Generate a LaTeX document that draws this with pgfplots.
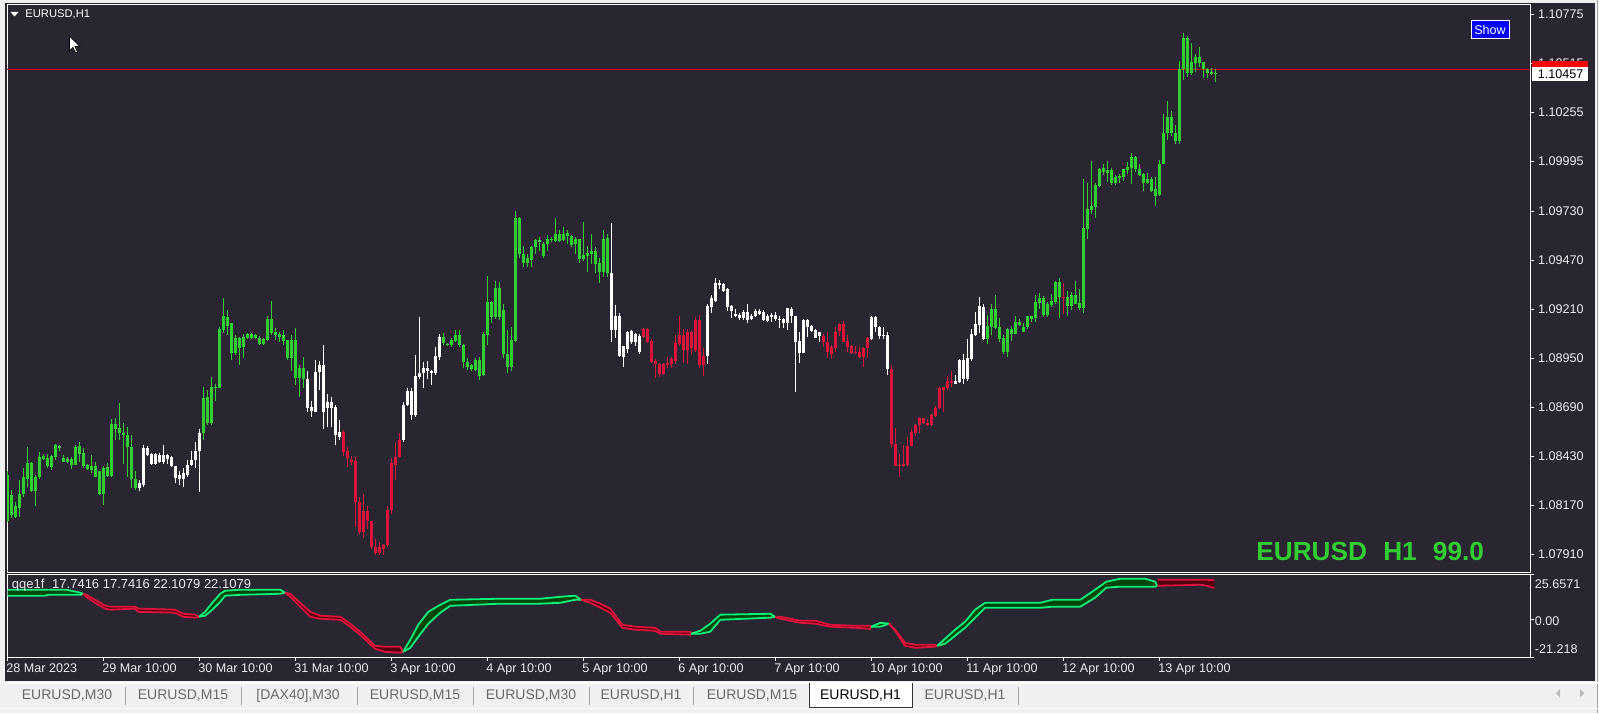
\documentclass[border=0pt]{standalone}
\usepackage{fontspec}
\setmainfont{Liberation Sans}
\usepackage{pgfplots}
\pgfplotsset{compat=1.18}
\usepackage{pgfplotstable}

\definecolor{chartbg}{RGB}{42,38,49}
\definecolor{winbg}{RGB}{240,240,240}
\definecolor{cgreen}{RGB}{50,205,50}
\definecolor{cred}{RGB}{220,20,60}
\definecolor{fg}{RGB}{235,235,240}
\definecolor{qgreen}{RGB}{10,240,120}
\definecolor{qgfill}{RGB}{0,70,10}
\definecolor{qred}{RGB}{220,20,60}
\definecolor{qrfill}{RGB}{85,0,15}
\definecolor{tabtext}{RGB}{105,105,105}
\definecolor{hline}{RGB}{215,0,0}

\newcommand\scalefont{\fontsize{6.3pt}{7pt}\selectfont}

% EURUSD H1 candles: t, body top, body bottom, high, low, colour class (0 green, 1 white, 2 red)
\pgfplotstableread{
t bt bb h l k
0 1.08331 1.08085 1.08351 1.08080 0
1 1.08226 1.08120 1.08251 1.08100 0
2 1.08165 1.08110 1.08190 1.08105 0
3 1.08231 1.08155 1.08306 1.08110 0
4 1.08321 1.08231 1.08366 1.08216 0
5 1.08396 1.08311 1.08481 1.08266 0
6 1.08396 1.08246 1.08401 1.08241 0
7 1.08321 1.08246 1.08331 1.08165 0
8 1.08426 1.08321 1.08451 1.08311 0
9 1.08431 1.08416 1.08441 1.08411 0
10 1.08421 1.08376 1.08441 1.08366 0
11 1.08431 1.08371 1.08436 1.08356 0
12 1.08491 1.08426 1.08496 1.08411 0
13 1.08486 1.08476 1.08491 1.08456 0
14 1.08421 1.08401 1.08436 1.08401 0
15 1.08416 1.08401 1.08426 1.08396 0
16 1.08416 1.08386 1.08426 1.08361 0
17 1.08481 1.08386 1.08491 1.08386 0
18 1.08486 1.08441 1.08506 1.08401 0
19 1.08446 1.08376 1.08476 1.08366 0
20 1.08386 1.08361 1.08391 1.08356 0
21 1.08376 1.08356 1.08436 1.08341 0
22 1.08376 1.08321 1.08401 1.08321 0
23 1.08351 1.08231 1.08351 1.08226 0
24 1.08366 1.08231 1.08376 1.08170 0
25 1.08371 1.08326 1.08396 1.08321 0
26 1.08601 1.08326 1.08626 1.08321 0
27 1.08601 1.08576 1.08631 1.08516 0
28 1.08581 1.08551 1.08711 1.08516 0
29 1.08556 1.08541 1.08606 1.08391 0
30 1.08541 1.08481 1.08586 1.08321 0
31 1.08481 1.08311 1.08541 1.08261 0
32 1.08311 1.08261 1.08351 1.08251 0
33 1.08286 1.08261 1.08306 1.08246 1
34 1.08476 1.08276 1.08491 1.08266 1
35 1.08476 1.08436 1.08486 1.08431 1
36 1.08441 1.08391 1.08446 1.08386 1
37 1.08441 1.08391 1.08446 1.08386 1
38 1.08436 1.08401 1.08446 1.08396 1
39 1.08436 1.08401 1.08491 1.08391 1
40 1.08436 1.08416 1.08441 1.08391 1
41 1.08426 1.08376 1.08431 1.08371 1
42 1.08376 1.08316 1.08381 1.08286 1
43 1.08331 1.08311 1.08351 1.08276 1
44 1.08341 1.08311 1.08366 1.08266 1
45 1.08386 1.08331 1.08411 1.08321 1
46 1.08411 1.08386 1.08456 1.08376 1
47 1.08456 1.08411 1.08506 1.08366 1
48 1.08551 1.08456 1.08576 1.08241 1
49 1.08741 1.08551 1.08796 1.08516 0
50 1.08746 1.08606 1.08781 1.08596 0
51 1.08796 1.08606 1.08851 1.08596 0
52 1.08796 1.08791 1.08816 1.08721 0
53 1.09107 1.08791 1.09117 1.08791 0
54 1.09172 1.09102 1.09272 1.09082 0
55 1.09167 1.09122 1.09207 1.09072 0
56 1.09137 1.08976 1.09137 1.08941 0
57 1.09057 1.08976 1.09072 1.08966 0
58 1.09057 1.09007 1.09062 1.08916 0
59 1.09062 1.09012 1.09077 1.08951 0
60 1.09077 1.09057 1.09082 1.09052 0
61 1.09077 1.09057 1.09082 1.09052 0
62 1.09072 1.09057 1.09077 1.09052 0
63 1.09057 1.09027 1.09067 1.09022 0
64 1.09052 1.09027 1.09057 1.09022 0
65 1.09157 1.09047 1.09172 1.09042 0
66 1.09157 1.09082 1.09252 1.09072 0
67 1.09087 1.09072 1.09112 1.09047 0
68 1.09077 1.09062 1.09092 1.09037 0
69 1.09072 1.09042 1.09102 1.09022 0
70 1.09047 1.08951 1.09047 1.08941 0
71 1.09047 1.08951 1.09072 1.08881 0
72 1.09047 1.08846 1.09112 1.08806 0
73 1.08901 1.08846 1.08916 1.08746 0
74 1.08896 1.08841 1.08956 1.08791 0
75 1.08841 1.08686 1.08881 1.08666 1
76 1.08691 1.08671 1.08721 1.08641 1
77 1.08876 1.08666 1.08941 1.08666 1
78 1.08916 1.08876 1.08936 1.08781 1
79 1.08916 1.08666 1.09022 1.08576 1
80 1.08716 1.08686 1.08761 1.08586 1
81 1.08716 1.08686 1.08746 1.08586 1
82 1.08691 1.08541 1.08701 1.08491 1
83 1.08561 1.08531 1.08621 1.08516 1
84 1.08561 1.08451 1.08571 1.08431 2
85 1.08456 1.08421 1.08481 1.08371 2
86 1.08411 1.08401 1.08431 1.08386 2
87 1.08406 1.08190 1.08426 1.08055 2
88 1.08190 1.08030 1.08216 1.08020 2
89 1.08140 1.08030 1.08231 1.07995 2
90 1.08140 1.08085 1.08165 1.08045 2
91 1.08085 1.07950 1.08085 1.07940 2
92 1.07950 1.07915 1.07990 1.07905 2
93 1.07950 1.07915 1.07975 1.07905 2
94 1.07960 1.07940 1.07965 1.07905 2
95 1.08145 1.07960 1.08165 1.07950 2
96 1.08396 1.08145 1.08421 1.08125 2
97 1.08426 1.08386 1.08506 1.08306 2
98 1.08516 1.08426 1.08551 1.08421 2
99 1.08701 1.08516 1.08716 1.08506 1
100 1.08776 1.08701 1.08791 1.08696 1
101 1.08776 1.08651 1.08791 1.08621 1
102 1.08856 1.08651 1.08966 1.08641 1
103 1.08871 1.08851 1.09167 1.08841 1
104 1.08896 1.08871 1.08931 1.08791 1
105 1.08901 1.08881 1.08936 1.08841 1
106 1.08881 1.08871 1.08886 1.08806 1
107 1.08961 1.08871 1.09012 1.08861 1
108 1.09062 1.08956 1.09077 1.08941 1
109 1.09062 1.09032 1.09082 1.09022 0
110 1.09027 1.09022 1.09032 1.09017 0
111 1.09047 1.09022 1.09057 1.09012 0
112 1.09072 1.09042 1.09102 1.09037 0
113 1.09072 1.09022 1.09102 1.09012 0
114 1.09022 1.08931 1.09027 1.08901 0
115 1.08931 1.08906 1.08951 1.08886 0
116 1.08916 1.08891 1.08921 1.08881 0
117 1.08941 1.08886 1.08951 1.08881 0
118 1.08941 1.08856 1.08956 1.08836 0
119 1.09077 1.08861 1.09092 1.08856 0
120 1.09247 1.09072 1.09387 1.09022 0
121 1.09247 1.09167 1.09252 1.09137 0
122 1.09322 1.09167 1.09362 1.09157 0
123 1.09322 1.09167 1.09357 1.09152 0
124 1.09207 1.08971 1.09237 1.08951 0
125 1.08971 1.08906 1.09102 1.08871 0
126 1.09047 1.08906 1.09117 1.08881 0
127 1.09697 1.09042 1.09732 1.09037 0
128 1.09692 1.09502 1.09702 1.09482 0
129 1.09502 1.09457 1.09547 1.09432 0
130 1.09482 1.09457 1.09502 1.09437 0
131 1.09542 1.09472 1.09547 1.09437 0
132 1.09577 1.09542 1.09582 1.09502 0
133 1.09577 1.09567 1.09592 1.09517 0
134 1.09557 1.09492 1.09567 1.09482 0
135 1.09582 1.09557 1.09602 1.09517 0
136 1.09582 1.09577 1.09592 1.09567 0
137 1.09612 1.09572 1.09692 1.09567 0
138 1.09612 1.09572 1.09632 1.09567 0
139 1.09612 1.09577 1.09647 1.09572 0
140 1.09617 1.09597 1.09632 1.09557 0
141 1.09597 1.09552 1.09602 1.09542 0
142 1.09582 1.09557 1.09592 1.09502 0
143 1.09582 1.09477 1.09582 1.09457 0
144 1.09497 1.09477 1.09672 1.09467 0
145 1.09507 1.09492 1.09547 1.09407 0
146 1.09517 1.09502 1.09607 1.09452 0
147 1.09517 1.09452 1.09542 1.09402 0
148 1.09457 1.09407 1.09482 1.09352 0
149 1.09582 1.09407 1.09632 1.09382 0
150 1.09587 1.09402 1.09607 1.09382 0
151 1.09402 1.09102 1.09667 1.09037 1
152 1.09172 1.09102 1.09232 1.09057 1
153 1.09172 1.08961 1.09192 1.08956 1
154 1.09017 1.08956 1.09017 1.08906 1
155 1.09092 1.08997 1.09097 1.08976 1
156 1.09097 1.09037 1.09102 1.09027 1
157 1.09077 1.09037 1.09082 1.09017 1
158 1.09067 1.08986 1.09077 1.08971 1
159 1.09107 1.09062 1.09112 1.09057 2
160 1.09107 1.09037 1.09112 1.09032 2
161 1.09042 1.08931 1.09052 1.08926 2
162 1.08936 1.08921 1.08946 1.08846 2
163 1.08921 1.08866 1.08926 1.08851 2
164 1.08921 1.08866 1.08926 1.08861 2
165 1.08926 1.08916 1.08956 1.08896 2
166 1.08946 1.08921 1.08956 1.08901 2
167 1.09032 1.08936 1.09072 1.08921 2
168 1.09072 1.09027 1.09172 1.09017 2
169 1.09072 1.08996 1.09107 1.08926 2
170 1.09092 1.08996 1.09107 1.08921 2
171 1.09092 1.09007 1.09097 1.08971 2
172 1.09152 1.08996 1.09167 1.08981 2
173 1.09152 1.08916 1.09182 1.08896 2
174 1.08961 1.08916 1.09007 1.08856 2
175 1.09227 1.08961 1.09237 1.08921 1
176 1.09272 1.09222 1.09287 1.09192 1
177 1.09347 1.09252 1.09377 1.09247 1
178 1.09347 1.09337 1.09367 1.09317 1
179 1.09342 1.09307 1.09352 1.09302 1
180 1.09317 1.09222 1.09322 1.09202 1
181 1.09227 1.09202 1.09232 1.09162 1
182 1.09187 1.09177 1.09212 1.09167 1
183 1.09182 1.09162 1.09192 1.09152 1
184 1.09197 1.09162 1.09207 1.09152 1
185 1.09197 1.09152 1.09237 1.09137 1
186 1.09177 1.09157 1.09187 1.09152 1
187 1.09202 1.09172 1.09212 1.09167 1
188 1.09202 1.09187 1.09212 1.09182 1
189 1.09197 1.09152 1.09207 1.09147 1
190 1.09172 1.09147 1.09187 1.09142 1
191 1.09182 1.09167 1.09192 1.09142 1
192 1.09182 1.09157 1.09197 1.09147 1
193 1.09157 1.09152 1.09177 1.09112 1
194 1.09157 1.09137 1.09162 1.09112 1
195 1.09217 1.09137 1.09217 1.09102 1
196 1.09212 1.09172 1.09222 1.09137 1
197 1.09172 1.09037 1.09177 1.08771 1
198 1.09042 1.08976 1.09087 1.08926 1
199 1.09152 1.08976 1.09157 1.08976 1
200 1.09152 1.09117 1.09157 1.09062 1
201 1.09122 1.09097 1.09127 1.09087 1
202 1.09102 1.09057 1.09107 1.09057 1
203 1.09087 1.09067 1.09092 1.09037 1
204 1.09067 1.09037 1.09077 1.09012 2
205 1.09037 1.08986 1.09087 1.08951 2
206 1.09012 1.08971 1.09022 1.08946 2
207 1.09092 1.09007 1.09117 1.08986 2
208 1.09132 1.09097 1.09137 1.09067 2
209 1.09132 1.09037 1.09147 1.09037 2
210 1.09042 1.09012 1.09072 1.08986 2
211 1.09017 1.08976 1.09022 1.08971 2
212 1.08986 1.08976 1.09017 1.08971 2
213 1.08986 1.08956 1.09012 1.08951 2
214 1.09007 1.08956 1.09012 1.08906 2
215 1.09057 1.09007 1.09062 1.08951 2
216 1.09167 1.09052 1.09172 1.09047 1
217 1.09167 1.09117 1.09172 1.09087 1
218 1.09117 1.09067 1.09122 1.09052 1
219 1.09072 1.09067 1.09117 1.09052 1
220 1.09072 1.08891 1.09087 1.08861 1
221 1.08891 1.08496 1.08916 1.08481 2
222 1.08496 1.08376 1.08581 1.08376 2
223 1.08386 1.08376 1.08441 1.08321 2
224 1.08391 1.08376 1.08491 1.08371 2
225 1.08486 1.08386 1.08531 1.08376 2
226 1.08561 1.08486 1.08576 1.08486 2
227 1.08596 1.08556 1.08601 1.08536 2
228 1.08631 1.08596 1.08636 1.08556 2
229 1.08631 1.08606 1.08631 1.08601 2
230 1.08606 1.08596 1.08626 1.08591 2
231 1.08651 1.08596 1.08656 1.08591 2
232 1.08686 1.08646 1.08696 1.08636 2
233 1.08791 1.08686 1.08796 1.08681 2
234 1.08796 1.08781 1.08796 1.08666 2
235 1.08831 1.08791 1.08856 1.08781 2
236 1.08831 1.08821 1.08881 1.08796 2
237 1.08831 1.08816 1.08861 1.08811 1
238 1.08941 1.08826 1.08946 1.08821 1
239 1.08941 1.08841 1.08971 1.08811 1
240 1.08951 1.08841 1.09052 1.08831 1
241 1.09077 1.08946 1.09107 1.08936 1
242 1.09132 1.09072 1.09197 1.09067 1
243 1.09227 1.09127 1.09277 1.09082 1
244 1.09222 1.09052 1.09237 1.09047 1
245 1.09122 1.09052 1.09182 1.09027 0
246 1.09212 1.09117 1.09237 1.09072 0
247 1.09212 1.09112 1.09287 1.09107 0
248 1.09117 1.09052 1.09162 1.09037 0
249 1.09057 1.08981 1.09072 1.08971 0
250 1.09107 1.08981 1.09112 1.08956 0
251 1.09107 1.09077 1.09122 1.09042 0
252 1.09142 1.09077 1.09172 1.09077 0
253 1.09142 1.09127 1.09157 1.09122 0
254 1.09117 1.09092 1.09137 1.09087 0
255 1.09172 1.09117 1.09177 1.09107 0
256 1.09172 1.09157 1.09177 1.09142 0
257 1.09247 1.09162 1.09287 1.09142 0
258 1.09272 1.09242 1.09297 1.09212 0
259 1.09272 1.09182 1.09282 1.09167 0
260 1.09237 1.09182 1.09247 1.09167 0
261 1.09252 1.09232 1.09292 1.09222 0
262 1.09357 1.09247 1.09362 1.09237 0
263 1.09357 1.09277 1.09377 1.09162 0
264 1.09277 1.09272 1.09347 1.09187 2
265 1.09277 1.09227 1.09307 1.09177 0
266 1.09287 1.09227 1.09302 1.09207 0
267 1.09287 1.09237 1.09362 1.09237 0
268 1.09242 1.09217 1.09317 1.09207 0
269 1.09642 1.09217 1.09902 1.09192 0
270 1.09742 1.09637 1.09882 1.09582 0
271 1.09757 1.09737 1.09997 1.09717 0
272 1.09872 1.09752 1.09882 1.09697 0
273 1.09957 1.09862 1.09962 1.09857 0
274 1.09962 1.09937 1.09982 1.09922 0
275 1.09947 1.09932 1.09997 1.09887 0
276 1.09947 1.09882 1.09962 1.09867 0
277 1.09912 1.09882 1.09922 1.09867 0
278 1.09917 1.09907 1.09927 1.09882 0
279 1.09952 1.09912 1.09952 1.09892 0
280 1.09967 1.09947 1.09992 1.09927 0
281 1.10017 1.09962 1.10037 1.09877 0
282 1.10017 1.09957 1.10022 1.09937 0
283 1.09957 1.09922 1.09982 1.09917 0
284 1.09927 1.09882 1.09932 1.09837 0
285 1.09902 1.09882 1.09932 1.09877 0
286 1.09902 1.09837 1.09912 1.09832 0
287 1.09847 1.09812 1.09912 1.09757 0
288 1.09982 1.09817 1.10002 1.09812 0
289 1.10148 1.09982 1.10248 1.09982 0
290 1.10228 1.10143 1.10313 1.10108 0
291 1.10228 1.10143 1.10263 1.10128 0
292 1.10143 1.10103 1.10188 1.10088 0
293 1.10483 1.10103 1.10528 1.10088 0
294 1.10648 1.10483 1.10678 1.10428 0
295 1.10648 1.10463 1.10658 1.10443 0
296 1.10523 1.10463 1.10623 1.10453 0
297 1.10548 1.10518 1.10563 1.10468 0
298 1.10548 1.10518 1.10603 1.10498 0
299 1.10523 1.10483 1.10523 1.10438 0
300 1.10483 1.10463 1.10493 1.10438 0
301 1.10468 1.10458 1.10488 1.10453 0
302 1.10463 1.10458 1.10483 1.10418 0
}\candles

% qqe1f lines: bar position, upper line, lower line
\pgfplotstableread{
i u l
0 16.8 13.4
9.4 16.8 13.4
10.2 16.8 13.9
14.7 16.8 13.9
18.2 15.1 13.9
18.9 14.5 14.5
19.7 13.9 12.8
21.9 11.1 9.4
24.4 7.7 6.1
25.7 7.2 5.5
31.9 7.2 6.1
32.7 6.1 4.3
41.9 5.5 3.8
43.9 3.2 1.5
46.9 2.7 1.0
47.9 1.5 1.5
49.4 4.3 2.1
51.2 9.4 5.5
53.2 14.5 10.0
54.4 16.2 13.4
58.2 16.8 13.9
68.2 16.8 14.5
69.4 15.1 15.1
70.7 14.5 12.8
73.2 9.4 7.2
75.7 4.3 1.5
78.2 2.1 0.4
83.2 1.5 -0.2
85.7 -2.4 -4.1
88.7 -8.1 -9.8
91.9 -14.9 -16.6
94.4 -15.4 -18.3
98.2 -15.4 -18.8
98.9 -18.3 -18.3
100.7 -11.5 -16.0
102.7 -3.0 -9.8
105.2 4.3 -2.4
108.2 8.3 3.8
110.7 11.1 7.7
123.2 11.7 8.9
133.2 11.7 8.9
138.2 12.8 9.4
141.9 13.4 11.1
143.4 11.1 11.1
145.7 11.1 9.4
148.2 8.9 6.6
150.7 6.1 3.8
153.7 -3.0 -4.7
156.9 -4.1 -5.8
161.9 -4.7 -6.4
163.2 -6.9 -8.1
170.7 -6.9 -8.6
170.9 -8.1 -8.1
173.2 -6.4 -8.1
175.7 -2.4 -6.9
178.2 2.7 -0.2
190.7 3.2 1.0
191.9 1.5 1.5
193.2 1.5 0.4
198.2 -0.7 -1.9
201.9 -0.7 -2.4
205.7 -3.0 -4.1
211.9 -3.6 -4.7
215.7 -3.6 -5.3
215.9 -4.1 -4.1
218.2 -1.9 -4.1
220.4 -2.4 -2.4
221.9 -5.8 -6.4
224.4 -13.2 -14.9
226.9 -14.3 -16.0
231.9 -14.3 -15.4
232.4 -14.9 -14.9
234.4 -10.9 -13.7
236.9 -5.8 -9.2
239.4 -1.3 -4.7
241.9 5.5 1.0
244.4 9.4 6.6
258.2 9.4 6.6
261.2 11.1 7.2
268.2 11.1 7.2
271.9 16.8 12.3
274.7 21.3 17.9
278.2 23.0 18.5
284.4 23.0 18.5
286.9 21.3 18.5
287.4 19.0 19.0
287.5 22.4 19.0
298.2 22.4 19.6
299.9 22.4 19.0
301.7 22.1 17.7
}\qqe

% qqe1f ribbons: outline of each run (upper line forward, lower line back), run number s
\pgfplotstableread{
px py s
0 16.8 1
9.4 16.8 1
14.7 16.8 1
18.2 15.1 1
18.9 14.5 1
18.2 13.9 1
10.2 13.9 1
9.4 13.4 1
0 13.4 1
18.9 14.5 2
19.7 13.9 2
21.9 11.1 2
24.4 7.7 2
25.7 7.2 2
31.9 7.2 2
32.7 6.1 2
41.9 5.5 2
43.9 3.2 2
46.9 2.7 2
47.9 1.5 2
46.9 1.0 2
43.9 1.5 2
41.9 3.8 2
32.7 4.3 2
31.9 6.1 2
25.7 5.5 2
24.4 6.1 2
21.9 9.4 2
19.7 12.8 2
47.9 1.5 3
49.4 4.3 3
51.2 9.4 3
53.2 14.5 3
54.4 16.2 3
58.2 16.8 3
68.2 16.8 3
69.4 15.1 3
68.2 14.5 3
58.2 13.9 3
54.4 13.4 3
53.2 10.0 3
51.2 5.5 3
49.4 2.1 3
69.4 15.1 4
70.7 14.5 4
73.2 9.4 4
75.7 4.3 4
78.2 2.1 4
83.2 1.5 4
85.7 -2.4 4
88.7 -8.1 4
91.9 -14.9 4
94.4 -15.4 4
98.2 -15.4 4
98.9 -18.3 4
98.2 -18.8 4
94.4 -18.3 4
91.9 -16.6 4
88.7 -9.8 4
85.7 -4.1 4
83.2 -0.2 4
78.2 0.4 4
75.7 1.5 4
73.2 7.2 4
70.7 12.8 4
98.9 -18.3 5
100.7 -11.5 5
102.7 -3.0 5
105.2 4.3 5
108.2 8.3 5
110.7 11.1 5
123.2 11.7 5
133.2 11.7 5
138.2 12.8 5
141.9 13.4 5
143.4 11.1 5
141.9 11.1 5
138.2 9.4 5
133.2 8.9 5
123.2 8.9 5
110.7 7.7 5
108.2 3.8 5
105.2 -2.4 5
102.7 -9.8 5
100.7 -16.0 5
143.4 11.1 6
145.7 11.1 6
148.2 8.9 6
150.7 6.1 6
153.7 -3.0 6
156.9 -4.1 6
161.9 -4.7 6
163.2 -6.9 6
170.7 -6.9 6
170.9 -8.1 6
170.7 -8.6 6
163.2 -8.1 6
161.9 -6.4 6
156.9 -5.8 6
153.7 -4.7 6
150.7 3.8 6
148.2 6.6 6
145.7 9.4 6
170.9 -8.1 7
173.2 -6.4 7
175.7 -2.4 7
178.2 2.7 7
190.7 3.2 7
191.9 1.5 7
190.7 1.0 7
178.2 -0.2 7
175.7 -6.9 7
173.2 -8.1 7
191.9 1.5 8
193.2 1.5 8
198.2 -0.7 8
201.9 -0.7 8
205.7 -3.0 8
211.9 -3.6 8
215.7 -3.6 8
215.9 -4.1 8
215.7 -5.3 8
211.9 -4.7 8
205.7 -4.1 8
201.9 -2.4 8
198.2 -1.9 8
193.2 0.4 8
215.9 -4.1 9
218.2 -1.9 9
220.4 -2.4 9
218.2 -4.1 9
220.4 -2.4 10
221.9 -5.8 10
224.4 -13.2 10
226.9 -14.3 10
231.9 -14.3 10
232.4 -14.9 10
231.9 -15.4 10
226.9 -16.0 10
224.4 -14.9 10
221.9 -6.4 10
232.4 -14.9 11
234.4 -10.9 11
236.9 -5.8 11
239.4 -1.3 11
241.9 5.5 11
244.4 9.4 11
258.2 9.4 11
261.2 11.1 11
268.2 11.1 11
271.9 16.8 11
274.7 21.3 11
278.2 23.0 11
284.4 23.0 11
286.9 21.3 11
287.4 19.0 11
286.9 18.5 11
278.2 18.5 11
274.7 17.9 11
271.9 12.3 11
268.2 7.2 11
261.2 7.2 11
258.2 6.6 11
244.4 6.6 11
241.9 1.0 11
239.4 -4.7 11
236.9 -9.2 11
234.4 -13.7 11
287.5 22.4 12
298.2 22.4 12
299.9 22.4 12
301.7 22.1 12
301.7 17.7 12
299.9 19.0 12
298.2 19.6 12
287.5 19.0 12
}\ribbon

\pgfplotsset{
  wick/.style={only marks, mark=*, mark size=0pt, mark options={draw=none, fill=none},
    error bars/.cd, y dir=plus, y explicit, error mark=none,
    error bar style={line width=0.5pt, draw=#1}},
  body/.style={only marks, mark=*, mark size=0pt, mark options={draw=none, fill=none},
    error bars/.cd, y dir=plus, y explicit, error mark=none,
    error bar style={line width=1.5pt, draw=#1}},
  rib/.style n args={3}{fill=#1, draw=none, restrict expr to domain={\thisrow{s}}{#2:#3}},
  qln/.style n args={3}{draw=#1, line width=0.9pt, restrict x to domain=#2:#3},
}

\begin{document}
\begin{tikzpicture}
\useasboundingbox (0,0) rectangle (799.5pt,356.5pt);
\fill[winbg] (0,0) rectangle (799.5pt,356.5pt);
\begin{scope}[x=0.5pt,y=-0.5pt,yshift=356.5pt]
  \fill[chartbg] (5,3) rectangle (1595,681);
  \draw[gray!70, line width=0.5pt] (1597.5,0) -- (1597.5,713);
\end{scope}

% main price window
\begin{axis}[
    at={(3.5pt,70.5pt)}, anchor=south west,
    scale only axis, width=761.5pt, height=284pt,
    xmin=-0.125, xmax=380.625, ymin=1.07816, ymax=1.10830,
    axis line style={draw=white, line width=0.5pt},
    xtick=\empty, scaled y ticks=false,
    ytick={1.0791,1.0817,1.0843,1.0869,1.0895,1.0921,1.0947,1.0973,1.09995,1.10255,1.10515,1.10775},
    yticklabels={1.07910,1.08170,1.08430,1.08690,1.08950,1.09210,1.09470,1.09730,1.09995,1.10255,1.10515,1.10775},
    ytick pos=right, tick align=outside, major tick length=2pt,
    tick style={draw=white, line width=0.5pt},
    yticklabel style={font=\scalefont, text=fg, anchor=west, inner sep=0pt, xshift=1.85pt},
  ]
  \addplot[hline, line width=0.5pt] coordinates {(-0.125,1.10484) (380.625,1.10484)};
  % wicks
  \addplot[restrict expr to domain={\thisrow{k}}{-0.5:0.5}, wick=cgreen]
    table[x=t, y=l, y error plus expr=\thisrow{h}-\thisrow{l}] {\candles};
  \addplot[restrict expr to domain={\thisrow{k}}{0.5:1.5}, wick=white]
    table[x=t, y=l, y error plus expr=\thisrow{h}-\thisrow{l}] {\candles};
  \addplot[restrict expr to domain={\thisrow{k}}{1.5:2.5}, wick=cred]
    table[x=t, y=l, y error plus expr=\thisrow{h}-\thisrow{l}] {\candles};
  % bodies
  \addplot[restrict expr to domain={\thisrow{k}}{-0.5:0.5}, body=cgreen]
    table[x=t, y=bb, y error plus expr={max(\thisrow{bt}-\thisrow{bb},0.00004)}] {\candles};
  \addplot[restrict expr to domain={\thisrow{k}}{0.5:1.5}, body=white]
    table[x=t, y=bb, y error plus expr={max(\thisrow{bt}-\thisrow{bb},0.00004)}] {\candles};
  \addplot[restrict expr to domain={\thisrow{k}}{1.5:2.5}, body=cred]
    table[x=t, y=bb, y error plus expr={max(\thisrow{bt}-\thisrow{bb},0.00004)}] {\candles};
\end{axis}

% indicator window
\begin{axis}[
    at={(3.5pt,28pt)}, anchor=south west,
    scale only axis, width=761.5pt, height=41.5pt,
    xmin=-0.125, xmax=380.625, ymin=-21.218, ymax=25.6571,
    axis line style={draw=white, line width=0.5pt},
    xtick={0,24,...,288},
    xticklabels={28 Mar 2023,29 Mar 10:00,30 Mar 10:00,31 Mar 10:00,3 Apr 10:00,4 Apr 10:00,5 Apr 10:00,6 Apr 10:00,7 Apr 10:00,10 Apr 10:00,11 Apr 10:00,12 Apr 10:00,13 Apr 10:00},
    ytick={-21.218,0,25.6571}, yticklabels={,,},
    xtick pos=left, ytick pos=right, tick align=outside, major tick length=2pt,
    tick style={draw=white, line width=0.5pt},
    xticklabel style={font=\scalefont, text=fg, anchor=north west, inner sep=0pt, xshift=-0.75pt, yshift=-1.35pt},
  ]
  % ribbons between the two lines
  \addplot[rib={qgfill}{0.5}{1.5}] table[x=px, y=py] {\ribbon};
  \addplot[rib={qrfill}{1.5}{2.5}] table[x=px, y=py] {\ribbon};
  \addplot[rib={qgfill}{2.5}{3.5}] table[x=px, y=py] {\ribbon};
  \addplot[rib={qrfill}{3.5}{4.5}] table[x=px, y=py] {\ribbon};
  \addplot[rib={qgfill}{4.5}{5.5}] table[x=px, y=py] {\ribbon};
  \addplot[rib={qrfill}{5.5}{6.5}] table[x=px, y=py] {\ribbon};
  \addplot[rib={qgfill}{6.5}{7.5}] table[x=px, y=py] {\ribbon};
  \addplot[rib={qrfill}{7.5}{8.5}] table[x=px, y=py] {\ribbon};
  \addplot[rib={qgfill}{8.5}{9.5}] table[x=px, y=py] {\ribbon};
  \addplot[rib={qrfill}{9.5}{10.5}] table[x=px, y=py] {\ribbon};
  \addplot[rib={qgfill}{10.5}{11.5}] table[x=px, y=py] {\ribbon};
  \addplot[rib={qrfill}{11.5}{12.5}] table[x=px, y=py] {\ribbon};
  % the two lines, coloured by run
  \addplot[qln={qgreen}{0}{18.9}] table[x=i, y=u] {\qqe};
  \addplot[qln={qgreen}{0}{18.9}] table[x=i, y=l] {\qqe};
  \addplot[qln={qred}{18.9}{47.9}] table[x=i, y=u] {\qqe};
  \addplot[qln={qred}{18.9}{47.9}] table[x=i, y=l] {\qqe};
  \addplot[qln={qgreen}{47.9}{69.4}] table[x=i, y=u] {\qqe};
  \addplot[qln={qgreen}{47.9}{69.4}] table[x=i, y=l] {\qqe};
  \addplot[qln={qred}{69.4}{98.9}] table[x=i, y=u] {\qqe};
  \addplot[qln={qred}{69.4}{98.9}] table[x=i, y=l] {\qqe};
  \addplot[qln={qgreen}{98.9}{143.4}] table[x=i, y=u] {\qqe};
  \addplot[qln={qgreen}{98.9}{143.4}] table[x=i, y=l] {\qqe};
  \addplot[qln={qred}{143.4}{170.9}] table[x=i, y=u] {\qqe};
  \addplot[qln={qred}{143.4}{170.9}] table[x=i, y=l] {\qqe};
  \addplot[qln={qgreen}{170.9}{191.9}] table[x=i, y=u] {\qqe};
  \addplot[qln={qgreen}{170.9}{191.9}] table[x=i, y=l] {\qqe};
  \addplot[qln={qred}{191.9}{215.9}] table[x=i, y=u] {\qqe};
  \addplot[qln={qred}{191.9}{215.9}] table[x=i, y=l] {\qqe};
  \addplot[qln={qgreen}{215.9}{220.4}] table[x=i, y=u] {\qqe};
  \addplot[qln={qgreen}{215.9}{220.4}] table[x=i, y=l] {\qqe};
  \addplot[qln={qred}{220.4}{232.4}] table[x=i, y=u] {\qqe};
  \addplot[qln={qred}{220.4}{232.4}] table[x=i, y=l] {\qqe};
  \addplot[qln={qgreen}{232.4}{287.4}] table[x=i, y=u] {\qqe};
  \addplot[qln={qgreen}{232.4}{287.4}] table[x=i, y=l] {\qqe};
  \addplot[qln={qred}{287.5}{301.7}] table[x=i, y=u] {\qqe};
  \addplot[qln={qred}{287.5}{301.7}] table[x=i, y=l] {\qqe};
\end{axis}

\begin{scope}[x=0.5pt,y=-0.5pt,yshift=356.5pt]
  % window title
  \fill[white] (10.5,12) -- (18.5,12) -- (14.5,16.5) -- cycle;
  \node[anchor=west, inner sep=0pt, text=white, font=\fontsize{5.6pt}{6pt}\selectfont] at (25,14.5) {EURUSD,H1};
  % mouse cursor
  \filldraw[fill=white, draw=black, line width=0.4pt] (69.5,36) -- (69.5,51) -- (73,47.5) -- (75.5,53) -- (77.5,52) -- (75,46.5) -- (80,46.5) -- cycle;
  % Show button
  \filldraw[fill=blue, draw=white, line width=0.5pt] (1471,21) rectangle (1509,39);
  \node[text=white, inner sep=0pt, font=\scalefont] at (1490,30) {Show};
  % current price labels
  \fill[red] (1532,61.5) rectangle (1588,67);
  \fill[white] (1532,67) rectangle (1588,81);
  \node[anchor=west, inner sep=0pt, text=black, font=\scalefont] at (1537.5,74) {1.10457};
  % big status text
  \node[anchor=base west, inner sep=0pt, text=cgreen, font=\bfseries\fontsize{13.1pt}{14pt}\selectfont] at (1256,560) {EURUSD\hspace{0.62em}H1\hspace{0.62em}99.0};
  % indicator labels
  \node[anchor=west, inner sep=0pt, text=fg, font=\fontsize{6.5pt}{7pt}\selectfont] at (11.5,585.5) {qqe1f\hspace{0.6em}17.7416 17.7416 22.1079 22.1079};
  \node[anchor=west, inner sep=0pt, text=fg, font=\scalefont] at (1534.5,584) {25.6571};
  \node[anchor=west, inner sep=0pt, text=fg, font=\scalefont] at (1534.5,621) {0.00};
  \node[anchor=west, inner sep=0pt, text=fg, font=\scalefont] at (1534.5,649.5) {-21.218};
  % tab bar
  \draw[white, line width=1pt] (0,682.5) -- (1599,682.5);
  \draw[white, line width=0.5pt] (0,708.5) -- (1599,708.5);
  \foreach \s in {125,241,357,473,589,693,1018}
    \draw[gray!70, line width=0.5pt] (\s,687) -- (\s,705);
  \fill[white] (809,683) rectangle (912,707);
  \draw[gray!40!black, line width=0.5pt] (809,683) -- (809,707) -- (912,707) -- (912,683);
  \foreach \c/\t in {67/{EURUSD,M30},183/{EURUSD,M15},298/{[DAX40],M30},415/{EURUSD,M15},531/{EURUSD,M30},641/{EURUSD,H1},752/{EURUSD,M15},965/{EURUSD,H1}}
    \node[text=tabtext, inner sep=0pt, font=\fontsize{7pt}{8pt}\selectfont] at (\c,696) {\t};
  \node[text=black, inner sep=0pt, font=\fontsize{7pt}{8pt}\selectfont] at (860.5,696) {EURUSD,H1};
  \fill[gray!55] (1560,689) -- (1560,697.5) -- (1556,693.25) -- cycle;
  \fill[gray!55] (1580,689) -- (1580,697.5) -- (1584,693.25) -- cycle;
\end{scope}
\end{tikzpicture}
\end{document}
